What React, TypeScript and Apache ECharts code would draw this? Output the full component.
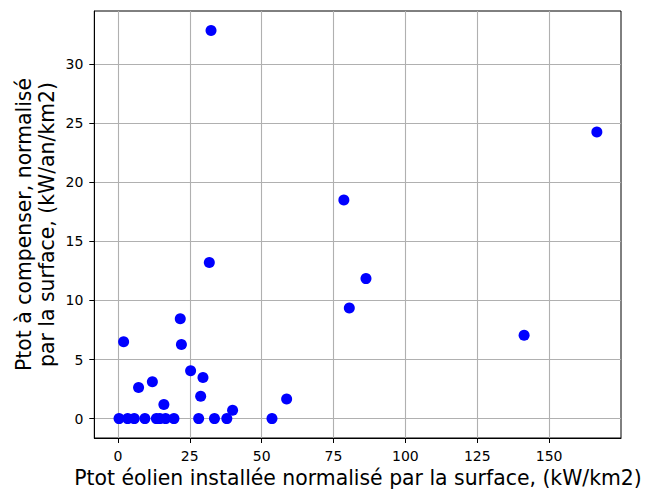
import React, { useEffect, useRef } from "react";
import * as echarts from "echarts";

const xValues = [
  0.4, 3.4, 5.7, 9.4, 13.4, 14.6, 16.6, 19.5, 28.1, 33.6, 37.9, 53.6,
  2.0, 21.7, 22.1, 25.3, 29.6, 7.2, 12.0, 28.8, 16.0, 39.9, 58.7,
  32.4, 31.8, 166.6, 78.6, 86.3, 80.5, 141.3,
];
const yValues = [
  0, 0, 0, 0, 0, 0, 0, 0, 0, 0, 0, 0,
  6.5, 8.45, 6.27, 4.05, 3.48, 2.64, 3.12, 1.9, 1.2, 0.7, 1.66,
  32.85, 13.22, 24.25, 18.5, 11.85, 9.37, 7.06,
];
const xTicks = [0, 25, 50, 75, 100, 125, 150];
const yTicks = [0, 5, 10, 15, 20, 25, 30];

const xTitle = "Ptot éolien installée normalisé par la surface, (kW/km2)";
const yTitle = "Ptot à compenser, normalisé\npar la surface, (kW/an/km2)";

export default function App() {
  const ref = useRef<HTMLDivElement>(null);
  useEffect(() => {
    document.body.style.margin = "0";
    const chart = echarts.init(ref.current!, null, { renderer: "svg" });
    const font = "DejaVu Sans";
    const data = xValues.map((x, i) => [x, yValues[i]]);
    chart.setOption({
      animation: false,
      backgroundColor: "#ffffff",
      grid: {
        left: 94.3,
        right: 29,
        top: 11,
        bottom: 52,
        show: true,
        borderColor: "#000000",
        borderWidth: 1,
        backgroundColor: "transparent",
      },
      xAxis: {
        type: "value",
        min: -8.2,
        max: 175.0,
        axisLine: { show: true, onZero: false, lineStyle: { color: "#000", width: 1 } },
        axisTick: {
          show: true,
          inside: false,
          length: 5,
          customValues: xTicks,
          lineStyle: { color: "#000", width: 1 },
        },
        axisLabel: {
          customValues: xTicks,
          margin: 11,
          color: "#000",
          fontFamily: font,
          fontSize: 14,
        },
        splitLine: { show: true, lineStyle: { color: "#b0b0b0", width: 1.1 } },
      },
      yAxis: {
        type: "value",
        min: -1.64,
        max: 34.5,
        axisLine: { show: true, onZero: false, lineStyle: { color: "#000", width: 1 } },
        axisTick: {
          show: true,
          inside: false,
          length: 5,
          customValues: yTicks,
          lineStyle: { color: "#000", width: 1 },
        },
        axisLabel: {
          customValues: yTicks,
          margin: 11,
          color: "#000",
          fontFamily: font,
          fontSize: 14,
        },
        splitLine: { show: true, lineStyle: { color: "#b0b0b0", width: 1.1 } },
      },
      graphic: [
        {
          type: "text",
          x: 358,
          y: 478,
          style: {
            text: xTitle,
            fontFamily: font,
            fontSize: 20.4,
            fill: "#000",
            textAlign: "center",
            textVerticalAlign: "middle",
          },
        },
        {
          type: "text",
          x: 35.5,
          y: 224.5,
          rotation: Math.PI / 2,
          style: {
            text: yTitle,
            fontFamily: font,
            fontSize: 20.4,
            lineHeight: 23,
            fill: "#000",
            textAlign: "center",
            textVerticalAlign: "middle",
          },
        },
      ],
      series: [
        {
          type: "scatter",
          data,
          symbol: "circle",
          symbolSize: 11,
          itemStyle: { color: "#0000ff", opacity: 1 },
          emphasis: { disabled: true },
        },
      ],
    });
    return () => chart.dispose();
  }, []);
  return (
    <div
      ref={ref}
      style={{ position: "fixed", left: 0, top: 0, width: 650, height: 490 }}
    />
  );
}
